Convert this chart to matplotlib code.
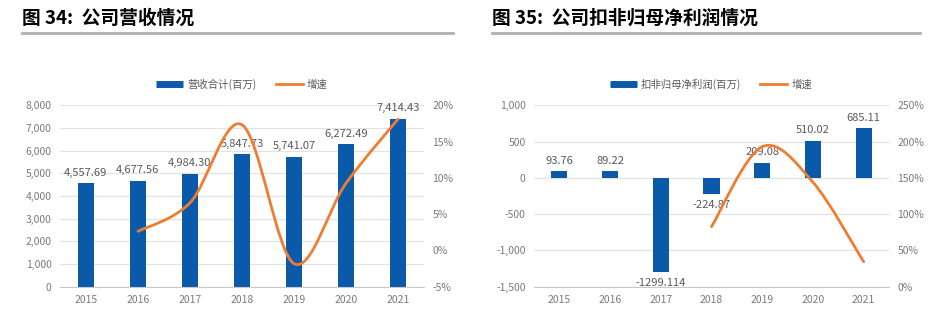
import matplotlib
matplotlib.use('Agg')
import matplotlib.pyplot as plt
from matplotlib.lines import Line2D
from matplotlib.path import Path
from matplotlib.patches import PathPatch

plt.rcParams['font.family'] = ['Noto Sans CJK SC', 'DejaVu Sans']

years = ['2015', '2016', '2017', '2018', '2019', '2020', '2021']

# 图34 营收
revenue = [4557.69, 4677.56, 4984.30, 5847.73, 5741.07, 6272.49, 7414.43]
revenue_labels = ['4,557.69', '4,677.56', '4,984.30', '5,847.73', '5,741.07', '6,272.49', '7,414.43']
revenue_growth = [2.63, 6.56, 17.32, -1.82, 9.26, 18.10]   # 2016-2021, %

# 图35 扣非归母净利润
profit = [93.76, 89.22, -1299.114, -224.87, 209.08, 510.02, 685.11]
profit_labels = ['93.76', '89.22', '-1299.114', '-224.87', '209.08', '510.02', '685.11']
profit_growth = [82.69, 192.98, 143.94, 34.33]   # 2018-2021, %

BLUE = '#0b5aa9'
ORANGE = '#ed7d31'
GRID = '#e3e3e3'
TXT = '#595959'
TICK = '#7a7a7a'
FS = 7.5

W, H = 948, 327
fig = plt.figure(figsize=(W / 100, H / 100), dpi=100)


def px_axes(x0, y0, x1, y1):
    return fig.add_axes([x0 / W, 1 - y1 / H, (x1 - x0) / W, (y1 - y0) / H])


def smooth_line(ax, xs, ys, color):
    # excel-like smoothed line (bezier through the points)
    pts = list(zip(xs, ys))
    verts = [pts[0]]
    codes = [Path.MOVETO]
    n = len(pts)
    for i in range(n - 1):
        p0 = pts[i - 1] if i > 0 else pts[i]
        p1 = pts[i]
        p2 = pts[i + 1]
        p3 = pts[i + 2] if i + 2 < n else pts[i + 1]
        c1 = (p1[0] + (p2[0] - p0[0]) / 6, p1[1] + (p2[1] - p0[1]) / 6)
        c2 = (p2[0] - (p3[0] - p1[0]) / 6, p2[1] - (p3[1] - p1[1]) / 6)
        verts += [c1, c2, p2]
        codes += [Path.CURVE4] * 3
    ax.add_patch(PathPatch(Path(verts, codes), fill=False, ec=color, lw=2,
                           capstyle='round', joinstyle='round'))


def style(ax, ax2):
    ax.set_axisbelow(True)
    ax.yaxis.grid(True, color=GRID, lw=0.9)
    for s in ['top', 'right', 'left']:
        ax.spines[s].set_visible(False)
    ax.spines['bottom'].set_color('#c8c8c8')
    for s in ax2.spines.values():
        s.set_visible(False)
    ax.tick_params(axis='both', length=0, labelsize=FS, labelcolor=TICK, pad=6)
    ax2.tick_params(axis='y', length=0, labelsize=FS, labelcolor=TICK, pad=6)
    ax.set_xlim(-0.5, 6.5)
    ax.set_xticks(range(len(years)))
    ax.set_xticklabels(years)


def legend(ax, name, cx):
    handles = [Line2D([], [], color=BLUE, lw=5, solid_capstyle='butt'),
               Line2D([], [], color=ORANGE, lw=2)]
    fig.legend(handles, [name, '增速'], loc='center', bbox_to_anchor=(cx / W, 1 - 84 / H),
               ncol=2, frameon=False, fontsize=FS, labelcolor=TXT,
               handlelength=2.6, handletextpad=0.4, columnspacing=1.8)


def title(x0, x1, text):
    fig.text(x0 / W, 1 - 18 / H, text, fontsize=13.5, fontweight='bold',
             va='center', ha='left', color='black')
    fig.add_artist(Line2D([x0 / W, x1 / W], [1 - 33 / H, 1 - 33 / H],
                          color='#b0b0b0', lw=2))


xs = list(range(len(years)))

# ---- 左图
title(22, 453, '图 34:  公司营收情况')
ax = px_axes(60, 105.3, 424, 286.7)
ax2 = ax.twinx()
ax.bar(xs, revenue, width=0.32, color=BLUE)
for x, v, s in zip(xs, revenue, revenue_labels):
    ax.annotate(s, (x, v), xytext=(0, 4), textcoords='offset points',
                ha='center', va='bottom', fontsize=FS + 0.5, color=TXT)
ax.set_ylim(0, 8000)
ax.set_yticks(range(0, 8001, 1000))
ax.set_yticklabels(['{:,}'.format(v) for v in range(0, 8001, 1000)])
ax2.set_ylim(-5, 20)
ax2.set_yticks(range(-5, 21, 5))
ax2.set_yticklabels(['{}%'.format(v) for v in range(-5, 21, 5)])
smooth_line(ax2, xs[1:], revenue_growth, ORANGE)
style(ax, ax2)
legend(ax, '营收合计(百万)', 242)

# ---- 右图
title(492, 920, '图 35:  公司扣非归母净利润情况')
bx = px_axes(534, 105.3, 889, 286.7)
bx2 = bx.twinx()
bx.bar(xs, profit, width=0.32, color=BLUE)
for x, v, s in zip(xs, profit, profit_labels):
    if v >= 0:
        bx.annotate(s, (x, v), xytext=(0, 4), textcoords='offset points',
                    ha='center', va='bottom', fontsize=FS + 0.5, color=TXT)
    else:
        bx.annotate(s, (x, v), xytext=(0, -4), textcoords='offset points',
                    ha='center', va='top', fontsize=FS + 0.5, color=TXT)
bx.set_ylim(-1500, 1000)
bx.set_yticks(range(-1500, 1001, 500))
bx.set_yticklabels(['{:,}'.format(v) for v in range(-1500, 1001, 500)])
bx2.set_ylim(0, 250)
bx2.set_yticks(range(0, 251, 50))
bx2.set_yticklabels(['{}%'.format(v) for v in range(0, 251, 50)])
smooth_line(bx2, xs[3:], profit_growth, ORANGE)
style(bx, bx2)
legend(bx, '扣非归母净利润(百万)', 711)

fig.savefig('out.png', dpi=100)
